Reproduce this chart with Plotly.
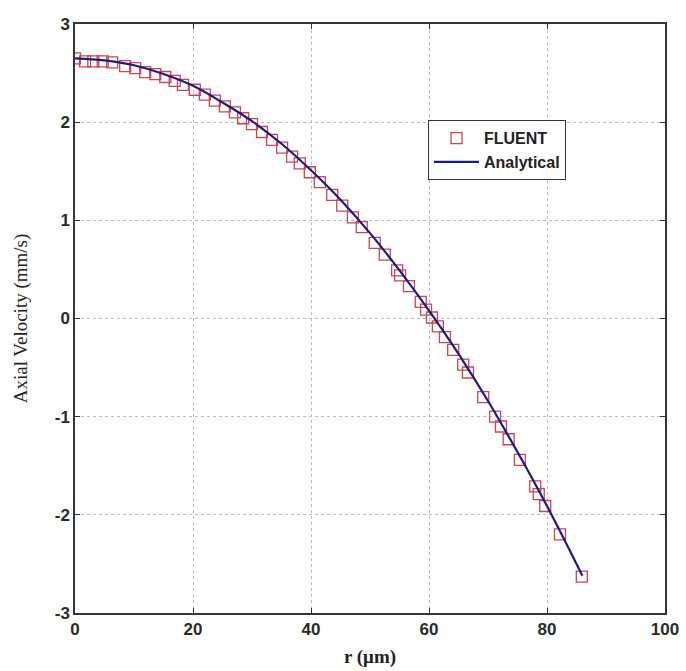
import plotly.graph_objects as go

# FLUENT data (r in micrometres, axial velocity in mm/s)
fluent_r = [0, 1.7, 3.1, 4.7, 6.3, 8.5, 10.2, 11.9, 13.6, 15.3, 16.9, 18.3, 20.3, 22, 23.7,
            25.4, 27.1, 28.5, 30, 31.7, 33.4, 35.1, 36.8, 38.1, 39.8, 41.5, 43.6, 45.3, 47.1,
            48.6, 50.8, 52.5, 54.6, 55.1, 56.6, 58.6, 59.5, 60.5, 61.5, 62.7, 64.1, 65.8, 66.6,
            69.2, 71.2, 72.2, 73.5, 75.4, 78, 78.6, 79.7, 82.2, 85.9]
fluent_u = [2.65, 2.62, 2.62, 2.62, 2.61, 2.57, 2.55, 2.51, 2.49, 2.46, 2.42, 2.38, 2.33, 2.28, 2.22,
            2.16, 2.10, 2.04, 1.98, 1.90, 1.82, 1.74, 1.65, 1.58, 1.49, 1.39, 1.26, 1.15, 1.03,
            0.93, 0.77, 0.65, 0.49, 0.44, 0.33, 0.17, 0.09, 0.01, -0.08, -0.19, -0.32, -0.47, -0.55,
            -0.80, -1.00, -1.10, -1.23, -1.44, -1.71, -1.79, -1.91, -2.20, -2.63]

# Analytical curve
analytic_r = [0, 5, 10, 15, 20, 25, 30, 35, 40, 45, 50, 55, 60, 65, 70, 75, 80, 86]
analytic_u = [2.65, 2.63, 2.58, 2.49, 2.37, 2.20, 2.01, 1.78, 1.51, 1.21, 0.87, 0.49, 0.08,
              -0.36, -0.84, -1.36, -1.91, -2.62]

x_ticks = [0, 20, 40, 60, 80, 100]
y_ticks = [-3, -2, -1, 0, 1, 2, 3]

fig = go.Figure()
fig.add_trace(go.Scatter(
    x=fluent_r, y=fluent_u, mode="markers", name="FLUENT",
    marker=dict(symbol="square-open", size=11, color="#cc4455", line=dict(width=1.3)),
))
fig.add_trace(go.Scatter(
    x=analytic_r, y=analytic_u, mode="lines", name="Analytical", line_shape="spline",
    line=dict(color="#1c1c80", width=2.2),
))

axis_common = dict(
    showline=True, linecolor="#333344", linewidth=1.5, mirror="ticks",
    ticks="inside", ticklen=5, tickcolor="#333344",
    showgrid=True, gridcolor="#c0b8cc", griddash="dot", gridwidth=1,
    zeroline=False, automargin=False,
    tickfont=dict(family="Liberation Sans, Arial", size=17, color="#2a2a2a", weight="bold"),
)

fig.update_xaxes(
    range=[0, 100], tickvals=x_ticks, ticktext=[str(v) for v in x_ticks],
    title=dict(text="r (\u03bcm)", standoff=12,
               font=dict(family="Liberation Serif, Times New Roman", size=19, color="#222222", weight="bold")),
    **axis_common,
)
fig.update_yaxes(
    range=[-3, 3], tickvals=y_ticks, ticktext=[str(v) for v in y_ticks],
    title=dict(text="Axial Velocity (mm/s)", standoff=22,
               font=dict(family="Liberation Serif, Times New Roman", size=19, color="#222222")),
    **axis_common,
)

fig.update_layout(
    width=686, height=671,
    margin=dict(l=75, r=21, t=24, b=58),
    paper_bgcolor="white", plot_bgcolor="white",
    showlegend=True,
    legend=dict(
        x=0.598, y=0.837, xanchor="left", yanchor="top",
        bgcolor="white", bordercolor="#333344", borderwidth=1.2,
        font=dict(family="Liberation Sans, Arial", size=16, color="#222222", weight="bold"),
        tracegroupgap=0, itemwidth=45,
    ),
)

fig.write_html("out.html")
